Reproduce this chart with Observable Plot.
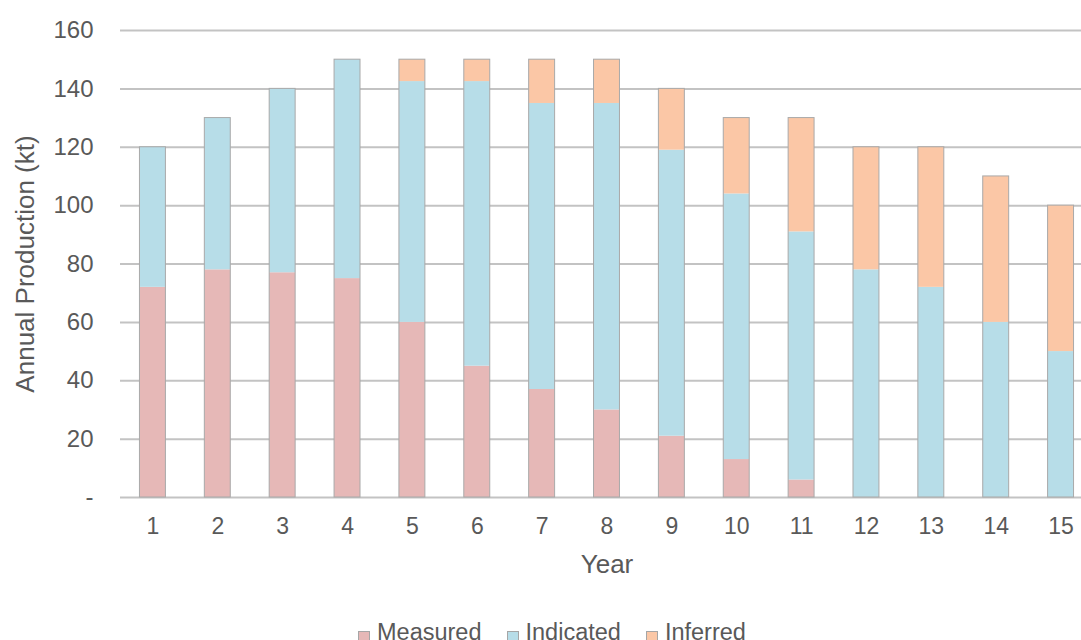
<!DOCTYPE html>
<html>
<head>
<meta charset="utf-8">
<script src="https://cdn.jsdelivr.net/npm/d3@7"></script>
<script src="https://cdn.jsdelivr.net/npm/@observablehq/plot@0.6"></script>
<style>
  html, body { margin: 0; padding: 0; overflow: hidden; background: #fff; }
  body { width: 1081px; height: 640px; position: relative; font-family: "Liberation Sans", Arial, sans-serif; }
  #chart svg { max-width: none !important; }
  #legend { position: absolute; left: 358px; top: 619px; display: flex; align-items: center;
            font-size: 23.5px; color: #595959; white-space: nowrap; }
  #legend .item { display: flex; align-items: center; margin-right: 25px; }
  #legend .sw { width: 10px; height: 10px; border: 1px solid #a6a6a6; margin-right: 7px; margin-top: 8px; }
</style>
</head>
<body>
<div id="chart"></div>
<div id="legend"></div>
<script>
// Annual production by resource category, years 1–15 (kt)
const years = [1, 2, 3, 4, 5, 6, 7, 8, 9, 10, 11, 12, 13, 14, 15];
const measured  = [72, 78, 77, 75, 60, 45, 37, 30, 21, 13, 6, 0, 0, 0, 0];
const indicated = [48, 52, 63, 75, 82.5, 97.5, 98, 105, 98, 91, 85, 78, 72, 60, 50];
const inferred  = [0, 0, 0, 0, 7.5, 7.5, 15, 15, 21, 26, 39, 42, 48, 50, 50];
const categories = ["Measured", "Indicated", "Inferred"];
const colors = ["#e6b8b7", "#b7dde8", "#fbc7a6"];
const yTicks = [0, 20, 40, 60, 80, 100, 120, 140, 160];

const series = [measured, indicated, inferred];
const rows = categories.flatMap((c, k) =>
  years.map((yr, i) => ({year: yr, category: c, value: series[k][i]}))
);
const totals = years.map((yr, i) => ({year: yr, total: measured[i] + indicated[i] + inferred[i]}));

const textColor = "#595959";

const chart = Plot.plot({
  width: 1093,
  height: 612,
  marginLeft: 120,
  marginRight: 0,
  marginTop: 30,
  marginBottom: 115,
  style: {fontFamily: "'Liberation Sans', Arial, sans-serif", color: textColor, background: "#fff"},
  x: {domain: years, paddingInner: 0.6, paddingOuter: 0.3, round: false, label: null},
  y: {domain: [0, 160], label: null},
  color: {domain: categories, range: colors},
  marks: [
    Plot.ruleY(yTicks, {stroke: "#c3c3c3", strokeWidth: 2}),
    Plot.barY(rows, {x: "year", y: "value", fill: "category"}),
    Plot.barY(totals, {x: "year", y: "total", fill: "none", stroke: "#a9a9a9", strokeWidth: 1}),
    Plot.axisY({ticks: yTicks, tickSize: 0, tickPadding: 27, fontSize: 24, fill: textColor,
                tickFormat: d => d === 0 ? "-" : d, label: null}),
    Plot.axisX({tickSize: 0, tickPadding: 20, fontSize: 23, fill: textColor, label: null}),
    Plot.text(["Annual Production (kt)"], {frameAnchor: "left", textAnchor: "middle", rotate: -90, dx: -95,
                fontSize: 26, fill: textColor}),
    Plot.text(["Year"], {frameAnchor: "bottom", dy: 75, fontSize: 26, fill: textColor})
  ]
});
chart.style.maxWidth = "none";
document.getElementById("chart").appendChild(chart);

const legend = document.getElementById("legend");
categories.forEach((c, k) => {
  const item = document.createElement("div");
  item.className = "item";
  const sw = document.createElement("span");
  sw.className = "sw";
  sw.style.background = colors[k];
  const label = document.createElement("span");
  label.textContent = c;
  item.append(sw, label);
  legend.appendChild(item);
});
</script>
</body>
</html>
